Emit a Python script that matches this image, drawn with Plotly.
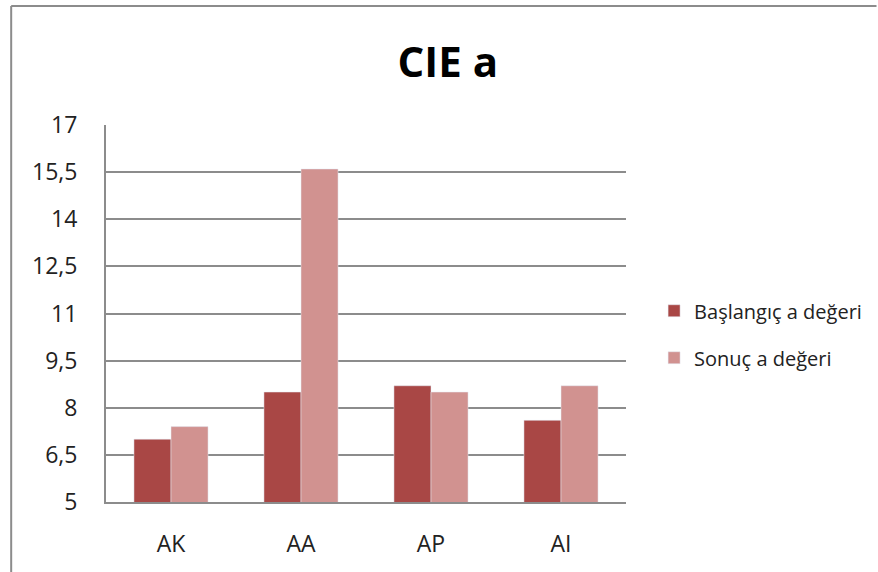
import plotly.graph_objects as go

categories = ["AK", "AA", "AP", "AI"]
baslangic = [7.0, 8.5, 8.7, 7.6]
sonuc = [7.4, 15.6, 8.5, 8.7]
y_ticks = [5, 6.5, 8, 9.5, 11, 12.5, 14, 15.5, 17]

fnt = "Open Sans"
grey = "#8c8c8c"

fig = go.Figure()
fig.add_trace(go.Bar(x=categories, y=baslangic, name="Başlangıç a değeri",
                     marker_color="#A94745", legendgroup="a"))
fig.add_trace(go.Bar(x=categories, y=sonuc, name="Sonuç a değeri",
                     marker_color="#D19290", legendgroup="b"))

fig.update_layout(
    width=878, height=572,
    margin=dict(l=106, r=251, t=125, b=70),
    paper_bgcolor="white", plot_bgcolor="white",
    separators=",.",
    barmode="group", bargap=0.43, bargroupgap=0,
    title=dict(text="<b>CIE a</b>", x=0.51, xref="container", xanchor="center",
               y=1 - 62 / 572, yref="container", yanchor="middle",
               font=dict(family=fnt, size=42, color="black")),
    font=dict(family=fnt, color="#222"),
    legend=dict(x=1.052, xanchor="left", y=0.445, yanchor="middle",
                font=dict(size=20, color="#222"), tracegroupgap=18,
                traceorder="grouped", itemwidth=30),
    showlegend=True,
)

fig.update_yaxes(range=[5, 17], tickvals=y_ticks, showgrid=True, gridcolor=grey,
                 gridwidth=2, showline=True, linecolor=grey, linewidth=2,
                 zeroline=False, ticks="", tickfont=dict(size=23, color="#222"),
                 ticklabelstandoff=22)
fig.update_xaxes(showline=True, linecolor=grey, linewidth=2, ticks="",
                 tickfont=dict(size=23, color="#222"), ticklabelstandoff=20)

# outer chart border (top and left visible)
fig.add_shape(type="line", xref="paper", yref="paper",
              x0=(11 - 106) / 521, x1=(878 - 106) / 521,
              y0=1 + (125 - 6) / 377, y1=1 + (125 - 6) / 377,
              line=dict(color=grey, width=2))
fig.add_shape(type="line", xref="paper", yref="paper",
              x0=(11 - 106) / 521, x1=(11 - 106) / 521,
              y0=1 + (125 - 6) / 377, y1=-0.2,
              line=dict(color=grey, width=2))

fig.write_html("out.html", config={"displayModeBar": False},
               post_script="document.body.style.margin='0';")
